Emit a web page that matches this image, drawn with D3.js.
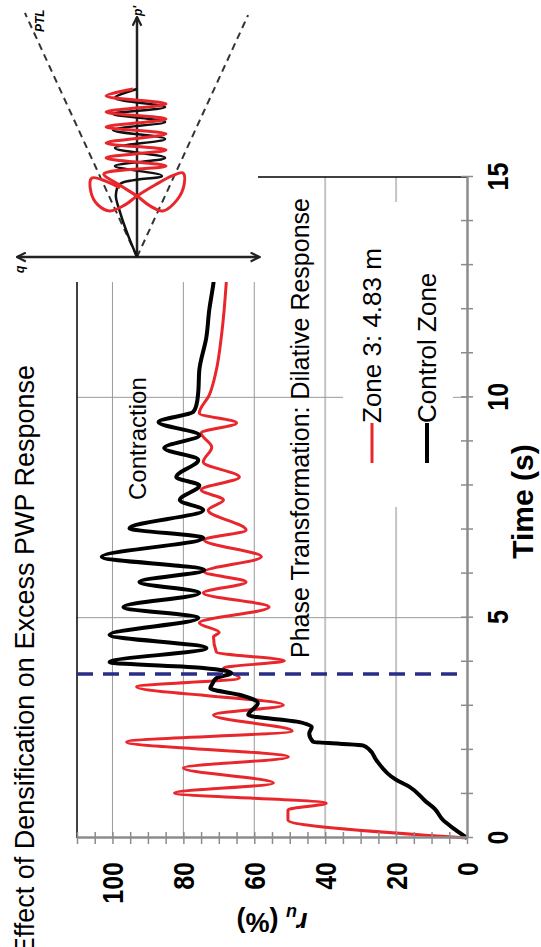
<!DOCTYPE html>
<html>
<head>
<meta charset="utf-8">
<script src="https://cdn.jsdelivr.net/npm/d3@7"></script>
<style>
  body { margin: 0; background: #fff; }
  svg { display: block; font-family: "Liberation Sans", Arial, sans-serif; }
</style>
</head>
<body>
<div class="chart"></div>
<script>
// time (s) and r_u (%)
const zoneT  = [0, 0.41, 0.64, 0.79, 1.02, 1.25, 1.59, 1.84, 2.18, 2.43, 2.79, 3.02, 3.43, 3.63, 3.86, 4.02, 4.22, 4.56, 4.67, 4.88, 5.24, 5.56, 5.81, 6.04, 6.38, 6.76, 6.99, 7.44, 7.67, 7.90, 8.19, 8.53, 8.87, 9.19, 9.42, 9.64, 10.05, 10.62, 11.37, 11.98, 12.6, 13.5, 15];
const zoneRu = [0, 50.5, 50.5, 39.7, 82.5, 54.6, 80, 50.4, 96, 49.3, 71.5, 51.8, 93.2, 64.2, 68.7, 51.5, 70.7, 71.5, 69.9, 75.5, 55.8, 74.4, 62.3, 74.1, 58, 74.1, 62.3, 73, 68.7, 75, 64.2, 74.4, 72, 75, 65, 75.5, 72.7, 70.7, 69.3, 68.5, 67.9, 67, 66];

const ctrlT  = [0, 0.2, 0.41, 0.67, 0.82, 1.16, 1.32, 1.77, 2.0, 2.1, 2.14, 2.18, 2.37, 2.52, 2.64, 2.79, 3.06, 3.24, 3.4, 3.5, 3.63, 3.74, 3.86, 3.99, 4.31, 4.61, 4.99, 5.24, 5.56, 5.81, 6.08, 6.38, 6.81, 7.03, 7.44, 7.67, 8.0, 8.19, 8.58, 8.85, 9.14, 9.44, 9.67, 9.83, 10.12, 10.62, 11.37, 11.98, 12.6, 13.5, 15];
const ctrlRu = [0, 3.5, 6.8, 9.2, 11.5, 16.2, 20, 25.6, 27.5, 29.4, 36, 43.4, 44.5, 43.8, 48, 61.7, 59, 63.7, 72.4, 71.8, 70.7, 66.5, 74.4, 100.8, 73.5, 100.8, 75.8, 96.9, 75.5, 92.4, 74.1, 103, 74.4, 95.2, 74.4, 81, 75.5, 82, 75.8, 85.4, 75.5, 87, 77.2, 76.3, 75.8, 75.5, 73.5, 72.7, 71.5, 70.5, 69.5];

const phaseT = 3.72;   // dashed line
const timeTicks = d3.range(0, 16, 1);
const ruTicks = d3.range(0, 111, 5);
const ruGrid = [20, 40, 60, 80, 100];
const timeGrid = [5, 10];

// inset stress path (q, p')
const ptlQ = [4.67, -4.63], ptlP = [10.17, 10.08];
const zoneQ = [0.71, 1.88, 1.92, 1.63, 1.13, 0.5, 0, -0.75, -1.46, -1.92, -1.96, -1.67, -1.08, -0.54, 0, 0.79, 1.38, -1.21, 1.29, -1.21, 1.29, -1.21, 1.29, -1.21, 1.29, -1.21, 1.29, 0.17];
const zoneP = [2.88, 3.29, 2.71, 2.17, 1.92, 2.17, 2.54, 3.0, 3.38, 3.5, 3.0, 2.38, 1.92, 2.13, 2.54, 3.04, 3.46, 3.79, 4.13, 4.46, 4.75, 5.13, 5.42, 5.75, 6.04, 6.38, 6.71, 7.0];
const ctrlQ = [0, 0.38, 0.71, 0.88, 0.71, -1.04, 0.92, -1.17, 0.92, -1.17, 1.0, -1.17, 1.0, -1.17, 0.92, 0];
const ctrlP = [0, 0.92, 1.88, 2.58, 3.04, 3.38, 3.79, 4.13, 4.54, 4.92, 5.29, 5.63, 5.96, 6.25, 6.63, 7.0];

const svgW = 541, svgH = 947;
const width = 661, height = 390;   // plot in its own (unrotated) frame

const svg = d3.select(".chart").append("svg")
    .attr("width", svgW).attr("height", svgH);
svg.append("rect").attr("width", svgW).attr("height", svgH).attr("fill", "#fff");

// whole chart is turned a quarter to the left
const g = svg.append("g").attr("transform", "translate(77,838) rotate(-90)");

const x = d3.scaleLinear().domain([0, 15]).range([0, width]);
const y = d3.scaleLinear().domain([0, 110]).range([height, 0]);

// grid
g.selectAll(".hgrid").data(ruGrid).enter().append("line")
    .attr("x1", 0).attr("x2", width)
    .attr("y1", d => y(d)).attr("y2", d => y(d))
    .attr("stroke", d => d <= 40 ? "#c4c4c4" : "#999")
    .attr("stroke-width", d => d <= 40 ? 2 : 1);
g.selectAll(".vgrid").data(timeGrid).enter().append("line")
    .attr("x1", d => x(d)).attr("x2", d => x(d))
    .attr("y1", 0).attr("y2", height)
    .attr("stroke", "#999").attr("stroke-width", 1);

// frame
g.append("line").attr("x1", 0).attr("x2", width).attr("y1", y(110)).attr("y2", y(110))
    .attr("stroke", "#000").attr("stroke-width", 1.5);
g.append("line").attr("x1", x(15)).attr("x2", x(15)).attr("y1", 0).attr("y2", height)
    .attr("stroke", "#000").attr("stroke-width", 1.5);

// legend backing
g.append("rect").attr("x", 331).attr("y", 266).attr("width", 305).attr("height", 110).attr("fill", "#fff");

// curves
const line = d3.line()
    .x(d => x(d[0]))
    .y(d => y(d[1]))
    .curve(d3.curveMonotoneX);

g.append("path").datum(d3.zip(zoneT, zoneRu))
    .attr("d", line).attr("fill", "none")
    .attr("stroke", "#e8262b").attr("stroke-width", 3);
g.append("path").datum(d3.zip(ctrlT, ctrlRu))
    .attr("d", line).attr("fill", "none")
    .attr("stroke", "#000").attr("stroke-width", 4);

g.append("line")
    .attr("x1", x(phaseT)).attr("x2", x(phaseT))
    .attr("y1", 0).attr("y2", height)
    .attr("stroke", "#2a2d86").attr("stroke-width", 3.5)
    .attr("stroke-dasharray", "16,10");

// axes
const xAxis = d3.axisBottom(x).tickValues(timeTicks)
    .tickFormat(d => d % 5 === 0 ? d : "").tickSizeOuter(0);
const gx = g.append("g").attr("transform", "translate(0," + height + ")").call(xAxis);
gx.select(".domain").attr("stroke", "#8c8c8c").attr("stroke-width", 2.5);
gx.selectAll(".tick line").attr("y1", -6).attr("y2", 6)
    .attr("stroke", "#8c8c8c").attr("stroke-width", 1.5);
gx.selectAll("text").attr("y", 41 / 1.2).attr("dy", 0)
    .attr("transform", "scale(1,1.2)")
    .attr("fill", "#000")
    .style("font-size", "25px").style("font-weight", "bold")
    .style("font-family", "'Liberation Sans', Arial, sans-serif");

const yAxis = d3.axisLeft(y).tickValues(ruTicks)
    .tickFormat(d => d % 20 === 0 && d <= 100 ? d : "").tickSizeOuter(0);
const gy = g.append("g").call(yAxis);
gy.select(".domain").attr("stroke", "#8c8c8c").attr("stroke-width", 2.5);
gy.selectAll(".tick line").attr("x1", -6).attr("x2", 6)
    .attr("stroke", "#8c8c8c").attr("stroke-width", 1.5);
gy.selectAll("text").attr("x", -24).attr("dy", "0.34em")
    .attr("transform", "scale(1,1.2)")
    .attr("fill", "#000")
    .style("font-size", "25px").style("font-weight", "bold")
    .style("font-family", "'Liberation Sans', Arial, sans-serif");

// titles and notes
g.append("text")
    .attr("x", 473).attr("y", -43.5)
    .attr("text-anchor", "end")
    .style("font-size", "27px")
    .text("Effect of Densification on Excess PWP Response");

g.append("text")
    .attr("x", 336.5).attr("y", 456)
    .attr("text-anchor", "middle")
    .style("font-size", "30px").style("font-weight", "bold")
    .text("Time (s)");

const ruLab = g.append("text")
    .attr("transform", "translate(-75," + y(55) + ") rotate(-90)")
    .attr("text-anchor", "middle")
    .style("font-size", "27px").style("font-weight", "bold");
ruLab.append("tspan").style("font-style", "italic").text("r");
ruLab.append("tspan").style("font-style", "italic").style("font-size", "18px").attr("dy", 6).text("u");
ruLab.append("tspan").attr("dy", -6).text(" (%)");

g.append("text").attr("x", 338).attr("y", 69)
    .style("font-size", "24px").text("Contraction");
g.append("text").attr("x", 180).attr("y", 232)
    .style("font-size", "25px").text("Phase Transformation: Dilative Response");

// legend
const legend = [
    {name: "Zone 3: 4.83 m", color: "#e8262b", w: 3, yy: 295},
    {name: "Control Zone", color: "#000", w: 4, yy: 350}
];
legend.forEach(function(item) {
    g.append("line").attr("x1", 375).attr("x2", 415)
        .attr("y1", item.yy).attr("y2", item.yy)
        .attr("stroke", item.color).attr("stroke-width", item.w);
    g.append("text").attr("x", 415).attr("y", item.yy + 9)
        .style("font-size", "26px").text(item.name);
});

// inset p'-q sketch, drawn in page coords
const ins = svg.append("g");
ins.append("rect").attr("x", 0).attr("y", 0).attr("width", 258).attr("height", 282).attr("fill", "#fff");

const qS = d3.scaleLinear().domain([-5, 5]).range([257, 17]);
const pS = d3.scaleLinear().domain([0, 10]).range([257, 17]);

const defs = svg.append("defs");
defs.append("marker").attr("id", "arr")
    .attr("viewBox", "0 0 10 10").attr("refX", 9).attr("refY", 5)
    .attr("markerUnits", "userSpaceOnUse")
    .attr("markerWidth", 11).attr("markerHeight", 11)
    .attr("orient", "auto-start-reverse")
  .append("path").attr("d", "M1,1 L9,5 L1,9")
    .attr("fill", "none").attr("stroke", "#222").attr("stroke-width", 2);

d3.zip(ptlQ, ptlP).forEach(function(d) {
    ins.append("line")
        .attr("x1", qS(0)).attr("y1", pS(0))
        .attr("x2", qS(d[0])).attr("y2", pS(d[1]))
        .attr("stroke", "#333").attr("stroke-width", 2)
        .attr("stroke-dasharray", "7,5");
});

ins.append("line")
    .attr("x1", qS(5)).attr("x2", qS(-5.1)).attr("y1", pS(0)).attr("y2", pS(0))
    .attr("stroke", "#222").attr("stroke-width", 2.5)
    .attr("marker-start", "url(#arr)").attr("marker-end", "url(#arr)");
ins.append("line")
    .attr("x1", qS(0)).attr("x2", qS(0)).attr("y1", pS(0)).attr("y2", pS(10))
    .attr("stroke", "#222").attr("stroke-width", 2.5)
    .attr("marker-end", "url(#arr)");

const sLine = d3.line()
    .x(d => qS(d[0]))
    .y(d => pS(d[1]))
    .curve(d3.curveCatmullRom.alpha(0.5));

ins.append("path").datum(d3.zip(ctrlQ, ctrlP))
    .attr("d", sLine).attr("fill", "none")
    .attr("stroke", "#111").attr("stroke-width", 2.5);
ins.append("path").datum(d3.zip(zoneQ, zoneP))
    .attr("d", sLine).attr("fill", "none")
    .attr("stroke", "#e8262b").attr("stroke-width", 3);

ins.append("text").attr("transform", "translate(142,16) rotate(-90)")
    .style("font-size", "12px").style("font-weight", "bold").style("font-style", "italic")
    .text("p'");
ins.append("text").attr("transform", "translate(24,273) rotate(-90)")
    .style("font-size", "12px").style("font-weight", "bold").style("font-style", "italic")
    .text("q");
ins.append("text").attr("transform", "translate(44,32) rotate(-90)")
    .style("font-size", "12px").style("font-weight", "bold").style("font-style", "italic")
    .text("PTL");
</script>
</body>
</html>
